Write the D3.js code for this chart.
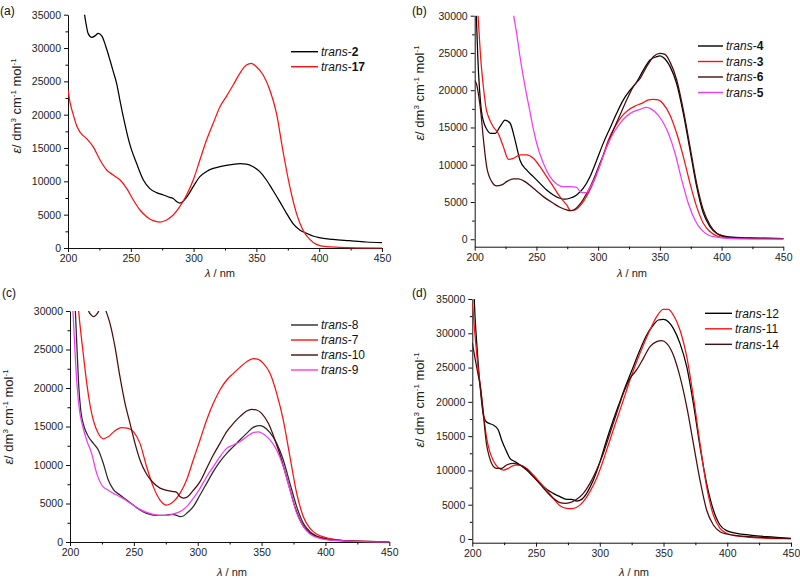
<!DOCTYPE html>
<html><head><meta charset="utf-8">
<script src="https://cdn.jsdelivr.net/npm/d3@7"></script>
<style>body{margin:0;background:#fff}svg{display:block}text{font-family:"Liberation Sans",Arial,sans-serif}</style>
</head><body>
<svg id="chart" width="800" height="582"></svg>
<script>
// ---------- DATA (wavelength nm, epsilon) ----------
const a_trans2 = [[213,35200],[214.5,33500],[216,32200],[219,31600],[222,31900],[224,32200],[227,31800],[230,30300],[233.4,28200],[236,26500],[238.7,24700],[241,22500],[244,19700],[249,15700],[254.6,12700],[260,10200],[265,8950],[270.5,8300],[276,7950],[281,7600],[284,7400],[287,6900],[289,6750],[291,6900],[294.4,7600],[299.7,9200],[305,10700],[310,11450],[315.6,11950],[321,12200],[326,12400],[331.5,12550],[337,12650],[342,12600],[347.4,12200],[352.7,11450],[358,10200],[363,8700],[368.6,6950],[374,5200],[379,3700],[384.5,2700],[390,2200],[395,1800],[400,1550],[411,1300],[424,1100],[437.5,900],[450,800]];
const a_trans17 = [[200,23700],[202,21500],[204.2,20000],[207,18300],[209.5,17400],[214.8,16400],[220,15200],[225.5,13200],[230.8,11700],[236,10950],[241.5,10200],[246.7,8950],[252,7200],[257.3,5700],[262.6,4700],[267.9,4100],[273.2,3900],[278.5,4200],[283.8,4950],[289,6200],[294.4,7950],[299.7,10200],[305,13200],[310.3,16200],[315.6,18700],[321,21200],[326,22700],[331.5,24450],[336.8,26200],[342,27450],[346,27700],[350,27200],[355.4,25950],[360.7,23700],[366,20200],[371,14700],[376.6,9200],[381.9,5200],[387,2700],[392.5,1300],[397.8,550],[405.7,200],[416,100],[430,30],[450,0]];

const b_trans4 = [[200,33000],[201.3,30000],[202.5,24500],[205.3,17400],[207.5,15600],[210,14700],[213,14200],[216.5,14200],[220.5,15100],[224.6,16000],[228.6,15600],[232.7,13300],[236.7,10600],[242,9300],[247.5,8400],[252.9,7500],[258.3,6600],[263.7,5950],[269,5500],[273,5370],[277,5500],[282.6,5950],[288,6850],[293.4,8400],[298.8,10600],[304.2,12900],[309.6,14900],[315,16900],[320.4,18700],[325.8,20000],[331.2,21100],[336.6,22700],[342,24050],[347.4,24500],[350,24600],[352.8,24400],[358.2,23200],[363.6,20900],[369,16900],[374.4,12000],[379.8,7100],[385.2,3500],[390.6,1700],[396,800],[401.4,450],[409.5,270],[423,180],[450,90]];
const b_trans3 = [[200,36000],[202.7,30000],[205,24000],[207,20500],[209.4,17400],[211,16500],[215,15100],[219,14220],[223.2,12430],[227.3,10730],[231.3,10860],[236.7,11310],[242,11310],[247.5,10860],[252.9,9750],[258.3,8400],[263.7,7060],[269,5720],[274.5,4600],[277.8,3840],[281.3,3930],[286.7,4740],[292,6170],[297.5,8180],[302.9,10640],[308.3,13320],[313.7,15110],[319,16450],[324.5,17350],[329.9,17880],[335.3,18240],[340.7,18690],[344.7,18780],[348.8,18690],[352.8,18150],[358.2,16680],[363.6,14220],[369,11090],[374.4,7510],[379.8,4380],[385.2,2150],[390.6,1030],[396,450],[404,180],[450,90]];
const b_trans6 = [[200,21300],[201.5,20800],[203,19500],[205,17000],[207,13500],[209.7,9750],[213.8,7730],[217.8,7150],[221.9,7290],[225.9,7730],[231.3,8090],[235.4,8090],[240.8,7730],[247.5,6840],[255.6,5720],[263.7,4830],[269,4290],[274.5,3930],[277,3840],[280,3930],[285.4,4740],[290.8,6170],[296.1,7960],[301.5,10190],[307,12430],[312.3,14660],[317.7,16680],[323.1,18690],[328.5,20480],[334,21600],[339.3,23160],[344.7,24500],[350,24950],[354.2,24800],[358.2,23800],[363.6,21400],[369,17350],[374.4,12430],[379.8,7510],[385.2,3930],[390.6,1920],[396,800],[401.4,360],[409.5,180],[450,90]];
const b_trans5 = [[230,32000],[231.6,30000],[234,27630],[236.7,24500],[240.8,20480],[244.5,17350],[247.5,14800],[250.2,12880],[255.6,10190],[261,8400],[266.4,7420],[271.8,7060],[277.2,7060],[282.6,6970],[285.3,6390],[288,6260],[290.7,6260],[293,6800],[296.1,7730],[301.5,9970],[307,12430],[312.3,14220],[317.7,15560],[323.1,16540],[328.5,17120],[334,17440],[339.3,17710],[342,17570],[346,17120],[351.5,16000],[356.9,14220],[362.3,11540],[367.7,7960],[373,4830],[378.4,2590],[383.8,1250],[389.2,580],[396,270],[409.5,90],[450,0]];

const c_trans8 = [[203,33000],[204.2,30000],[205.5,25000],[206.8,20400],[208.5,17000],[211,15000],[214.4,13700],[218.3,12800],[222.2,11950],[226.1,10200],[230,8050],[233.9,6840],[239.1,6100],[244.4,5450],[249.6,4800],[254.8,4160],[260,3720],[265.2,3500],[270.5,3450],[275.7,3500],[280,3600],[283,3500],[286.1,3290],[288.7,3380],[291.3,3720],[296.5,4590],[301.8,6100],[307,7620],[312.2,9130],[317.4,10430],[322.7,11510],[327.9,12380],[333,13250],[338.3,14110],[343.5,14890],[348.7,15110],[351.4,14980],[356.6,14200],[361.8,12810],[367,10650],[372.2,7620],[377.5,4590],[382.7,2420],[387.9,1340],[393.1,780],[399.6,480],[406.2,350],[419.2,130],[432.3,40],[450,0]];
const c_trans7 = [[205,34000],[206.8,30000],[210,25000],[213.3,20400],[216,17500],[218.3,15800],[222.2,14100],[226.1,13400],[230,13680],[235.2,14460],[240.4,14850],[245.7,14760],[249.6,14330],[254.8,12810],[260,9780],[265.2,7190],[270.5,5450],[275.7,4800],[278.3,4930],[280.9,5240],[286.1,6320],[291.3,8050],[296.5,10650],[301.8,13250],[307,15840],[312.2,18010],[317.4,19740],[322.7,21040],[327.9,21900],[333,22680],[338.3,23420],[343.5,23810],[347.4,23720],[351.4,23200],[356.6,21900],[361.8,19310],[367,15840],[372.2,11080],[377.5,6320],[382.7,3290],[387.9,1770],[393.1,1040],[399.6,610],[406.2,350],[419.2,130],[450,0]];
const c_trans10 = [[212,33000],[214.6,30000],[216.5,29500],[218.5,29260],[220.5,29500],[222.5,30000],[225,31500],[228.2,30000],[231.3,28400],[235.2,25370],[239.1,21470],[243.1,18010],[247,15410],[250.9,12810],[254.8,10650],[260,8800],[265.2,7700],[270.5,7000],[275.7,6700],[280.9,6550],[283.5,6450],[286.1,5900],[288.7,5700],[291.3,5800],[296.5,6700],[301.8,7840],[307,9570],[312.2,11300],[317.4,12810],[322.7,14330],[327.9,15410],[333,16280],[338.3,17010],[342.2,17230],[346.1,17140],[350,16710],[355.3,15410],[360.5,13250],[365.7,10650],[370.9,7620],[376.1,4590],[381.4,2420],[386.6,1340],[393.1,690],[400.9,350],[419.2,130],[450,0]];
const c_trans9 = [[201,33000],[202.3,30000],[204,24500],[205.5,20400],[207.5,17000],[210,15000],[213,13250],[216.9,11510],[220.9,8920],[224.8,7400],[228.7,6840],[233.9,6320],[239.1,5890],[244.4,5370],[249.6,4760],[254.8,4240],[260,3850],[265.2,3590],[270.5,3460],[275.7,3460],[280.9,3640],[286.1,3940],[291.3,4590],[296.5,5670],[301.8,6970],[307,8480],[312.2,9780],[317.4,11080],[322.7,12160],[327.9,12600],[333,13030],[338.3,13680],[343.5,14200],[347.4,14290],[351.4,14030],[356.6,13250],[361.8,11950],[367,9780],[372.2,6750],[377.5,3720],[382.7,1990],[387.9,1040],[395.7,480],[406.2,220],[450,0]];

const d_trans12 = [[201.3,36000],[202,33000],[203.5,28500],[206,22500],[208.5,18300],[211,17100],[214,16800],[216.5,16620],[220.4,15900],[223,14440],[226.9,12740],[229.5,11760],[233.5,11280],[237.4,10790],[242.6,10060],[247.9,9090],[253.1,8120],[258.3,7240],[263.5,6660],[268.8,6170],[274,5780],[277.9,5780],[281.9,5540],[285.8,5780],[289.7,6660],[295,8600],[300.2,11280],[305.4,14440],[310.6,17350],[315.8,20030],[321.1,22700],[326.3,25130],[331.5,27560],[336.8,29750],[342,31210],[346,31940],[349.8,32030],[353.8,31690],[357.7,30720],[362.9,28530],[368.2,25130],[373.4,19780],[378.6,13460],[383.8,8120],[389.1,4230],[394.3,2040],[399.5,1220],[407.4,830],[417.8,580],[430.9,340],[450,100]];
const d_trans11 = [[200,34500],[202,30000],[204.5,25000],[206.5,22000],[209,18000],[211,15000],[213.3,13000],[216.5,11400],[220.4,10400],[224.3,10060],[228.2,10300],[233.5,10790],[237.4,10790],[242.6,10300],[247.9,9330],[253.1,8220],[258.3,7150],[263.5,5930],[268.8,4860],[274,4470],[277.9,4420],[281.9,4620],[287.1,5440],[292.3,6900],[297.5,8850],[302.8,11520],[308,14440],[313.2,17350],[318.5,20270],[323.7,23190],[328.9,25860],[334.2,28290],[339.4,30480],[344.6,32420],[349.8,33490],[353.8,33490],[357.7,32670],[362.9,30480],[368.2,26590],[373.4,20760],[378.6,13950],[383.8,7630],[389.1,3500],[394.3,1560],[399.5,830],[407.4,440],[417.8,240],[430.9,100],[450,50]];
const d_trans14 = [[200,28600],[202,26500],[204.5,24000],[206.5,22000],[209,17500],[211,14000],[213.3,12000],[216.5,10600],[219.1,10300],[223,10300],[226.9,10790],[232.2,11030],[237.4,10790],[242.6,10160],[247.9,9090],[253.1,8020],[258.3,6900],[263.5,5930],[268.8,5300],[272.7,5200],[276.6,5300],[281.9,5780],[287.1,6660],[292.3,8120],[297.5,10060],[302.8,12490],[308,15410],[313.2,18330],[318.5,21240],[323.7,23430],[328.9,24650],[334.2,26350],[339.4,28050],[344.6,28780],[348.5,28920],[352.5,28530],[357.7,26830],[362.9,23670],[368.2,19300],[373.4,13950],[378.6,8600],[383.8,4230],[389.1,2040],[394.3,1070],[399.5,730],[407.4,490],[417.8,340],[430.9,190],[450,50]];

const xTicks = [200,250,300,350,400,450];
const yTicks35 = [0,5000,10000,15000,20000,25000,30000,35000];
const yTicks30 = [0,5000,10000,15000,20000,25000,30000];

const BLACK="#000000", RED="#ff1010", MAROON="#4e0b0b", MAGENTA="#f23cf0", DGRAY="#2a2a2a";

const panels = [
 {label:"(a)", lx:0, ly:15, x0:68, x1:382, yTop:14.7, yBot:248, ymin:0, ymax:35000, yt:yTicks35,
  ytx:21, yty:106, xtx:220, xty:277, boldNum:true,
  leg:{x1:291,x2:318,y0:51.7,dy:15},
  series:[{name:"2",d:a_trans2,c:BLACK},{name:"17",d:a_trans17,c:RED}]},
 {label:"(b)", lx:412, ly:15, x0:474.7, x1:783.3, yTop:15.7, yBot:246.7, ymin:-1000, ymax:30000, yt:yTicks30,
  ytx:424, yty:93, xtx:632, xty:277, boldNum:true,
  leg:{x1:698,x2:723,y0:46,dy:15.5},
  series:[{name:"4",d:b_trans4,c:BLACK},{name:"3",d:b_trans3,c:RED},{name:"6",d:b_trans6,c:MAROON},{name:"5",d:b_trans5,c:MAGENTA}]},
 {label:"(c)", lx:2, ly:297, x0:70, x1:389.3, yTop:311, yBot:542, ymin:0, ymax:30000, yt:yTicks30,
  ytx:13, yty:417, xtx:232, xty:576, boldNum:false,
  leg:{x1:291,x2:318,y0:325,dy:15},
  series:[{name:"8",d:c_trans8,c:DGRAY},{name:"7",d:c_trans7,c:RED},{name:"10",d:c_trans10,c:MAROON},{name:"9",d:c_trans9,c:MAGENTA}]},
 {label:"(d)", lx:412, ly:297, x0:472.3, x1:791, yTop:299, yBot:542.7, ymin:-540, ymax:35000, yt:yTicks35,
  ytx:424, yty:400, xtx:634, xty:576, boldNum:false,
  leg:{x1:705,x2:732,y0:313.3,dy:15.5},
  series:[{name:"12",d:d_trans12,c:BLACK},{name:"11",d:d_trans11,c:RED},{name:"14",d:d_trans14,c:MAROON}]}
];

const svg = d3.select("#chart");
const fs = 10.5;

panels.forEach((p,i)=>{
  const x = d3.scaleLinear().domain([200,450]).range([p.x0,p.x1]);
  const y = d3.scaleLinear().domain([p.ymin,p.ymax]).range([p.yBot,p.yTop]);
  const g = svg.append("g");

  const clipId = "clip"+i;
  svg.append("clipPath").attr("id",clipId).append("rect")
    .attr("x",p.x0).attr("y",p.yTop).attr("width",p.x1-p.x0+2).attr("height",p.yBot-p.yTop+1);

  // minor ticks
  const xMinor = d3.range(225,450,50);
  const yMinor = d3.range(2500,p.ymax,5000);
  g.append("g").attr("transform",`translate(0,${p.yBot})`)
    .call(d3.axisBottom(x).tickValues(xMinor).tickSize(2.5).tickFormat("").tickSizeOuter(0))
    .call(s=>s.select(".domain").remove());
  g.append("g").attr("transform",`translate(${p.x0},0)`)
    .call(d3.axisLeft(y).tickValues(yMinor).tickSize(2.5).tickFormat("").tickSizeOuter(0))
    .call(s=>s.select(".domain").remove());

  // major axes
  const xa = g.append("g").attr("transform",`translate(0,${p.yBot})`)
    .call(d3.axisBottom(x).tickValues(xTicks).tickSize(4).tickPadding(3).tickSizeOuter(0).tickFormat(d3.format("d")));
  const ya = g.append("g").attr("transform",`translate(${p.x0},0)`)
    .call(d3.axisLeft(y).tickValues(p.yt).tickSize(4).tickPadding(3).tickSizeOuter(0).tickFormat(d3.format("d")));
  [xa,ya].forEach(a=>{
    a.selectAll("text").attr("font-size",fs).attr("fill","#222").style("font-family",'"Liberation Sans",Arial,sans-serif');
    a.selectAll("line,path").attr("stroke","#111");
  });

  // curves
  const line = d3.line().x(d=>x(d[0])).y(d=>y(d[1])).curve(d3.curveMonotoneX);
  const lg = g.append("g").attr("clip-path",`url(#${clipId})`);
  p.series.forEach(s=>{
    lg.append("path").attr("d",line(s.d)).attr("fill","none")
      .attr("stroke",s.c).attr("stroke-width",1.25).attr("stroke-linejoin","round");
  });

  // legend
  p.series.forEach((s,k)=>{
    const yy = p.leg.y0 + k*p.leg.dy;
    g.append("line").attr("x1",p.leg.x1).attr("x2",p.leg.x2).attr("y1",yy).attr("y2",yy)
      .attr("stroke",s.c).attr("stroke-width",1.4);
    const t = g.append("text").attr("x",p.leg.x2+3).attr("y",yy+4.3).attr("font-size",12).attr("fill","#111");
    t.append("tspan").attr("font-style","italic").text("trans");
    t.append("tspan").text("-");
    t.append("tspan").attr("font-weight",p.boldNum?"bold":"normal").text(s.name);
  });

  // panel label
  svg.append("text").attr("x",p.lx).attr("y",p.ly).attr("font-size",12).attr("fill","#111").text(p.label);

  // x title
  const xt = svg.append("text").attr("x",p.xtx).attr("y",p.xty).attr("text-anchor","middle")
    .attr("font-size",11).attr("fill","#222");
  xt.append("tspan").attr("font-style","italic").text("λ");
  xt.append("tspan").text(" / nm");

  // y title
  const yt = svg.append("text").attr("transform",`translate(${p.ytx},${p.yty}) rotate(-90)`)
    .attr("text-anchor","middle").attr("font-size",13).attr("fill","#222");
  yt.append("tspan").attr("font-style","italic").text("ε");
  yt.append("tspan").text("/ dm");
  yt.append("tspan").attr("font-size",8).attr("dy",-5).text("3");
  yt.append("tspan").attr("dy",5).text(" cm");
  yt.append("tspan").attr("font-size",8).attr("dy",-5).text("-1");
  yt.append("tspan").attr("dy",5).text(" mol");
  yt.append("tspan").attr("font-size",8).attr("dy",-5).text("-1");
});
</script>
</body></html>
